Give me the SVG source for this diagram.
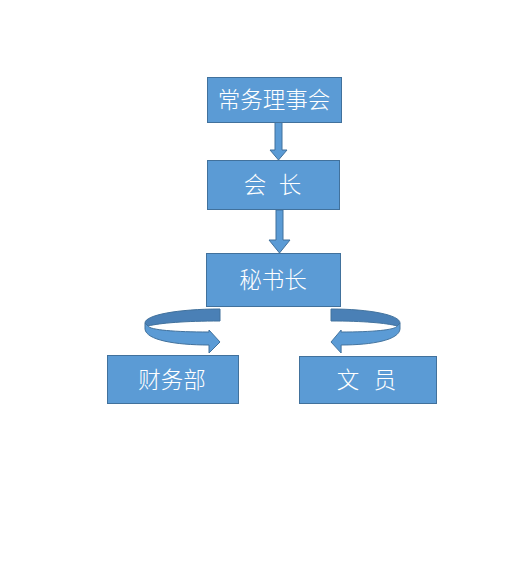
<svg xmlns="http://www.w3.org/2000/svg" width="529" height="575" viewBox="0 0 529 575">
<defs>
<style>
.box{fill:#5B9BD5;stroke:#41719C;stroke-width:1}
.lbl{fill:#FFFFFF;font-family:"Noto Sans CJK SC","Noto Sans",sans-serif;font-size:22.5px;font-weight:300;text-anchor:middle}
.arr{fill:#5B9BD5;stroke:#41719C;stroke-width:1}
.back{fill:#4A80B6;stroke:#41719C;stroke-width:1}
</style>
<g id="curved-arrow">
<path class="back" d="M220,309 C178,309 145,315 145,323 L148,326 C160,323 185,321 220,321 Z"/>
<path class="arr" d="M145,323 L145,329 C146,340 175,345 209,345 L209,353 L220,342 L209,330 L209,332 C175,332 150,330 148,326 Z"/>
</g>
</defs>
<rect width="529" height="575" fill="#FFFFFF"/>
<g id="connectors">
<path class="arr" d="M275,122 L282,122 L282,150 L287,150 L278.5,160 L270,150 L275,150 Z"/>
<path class="arr" d="M276,210 L283,210 L283,240 L290,240 L279.5,253 L269,240 L276,240 Z"/>
<use href="#curved-arrow"/>
<use href="#curved-arrow" transform="translate(533.4,0) scale(-0.92,1)"/>
</g>
<g id="node-council">
<rect class="box" x="207.5" y="77.5" width="134" height="45"/>
<text class="lbl" x="274" y="108">常务理事会</text>
</g>
<g id="node-president">
<rect class="box" x="207.5" y="160.5" width="132" height="49"/>
<text class="lbl" y="193"><tspan x="255">会</tspan><tspan x="290">长</tspan></text>
</g>
<g id="node-secretary">
<rect class="box" x="206.5" y="253.5" width="134" height="53"/>
<text class="lbl" x="273" y="288">秘书长</text>
</g>
<g id="node-finance">
<rect class="box" x="107.5" y="355.5" width="131" height="48"/>
<text class="lbl" x="172" y="388">财务部</text>
</g>
<g id="node-clerk">
<rect class="box" x="299.5" y="356.5" width="137" height="47"/>
<text class="lbl" y="388"><tspan x="348">文</tspan><tspan x="385">员</tspan></text>
</g>
</svg>
